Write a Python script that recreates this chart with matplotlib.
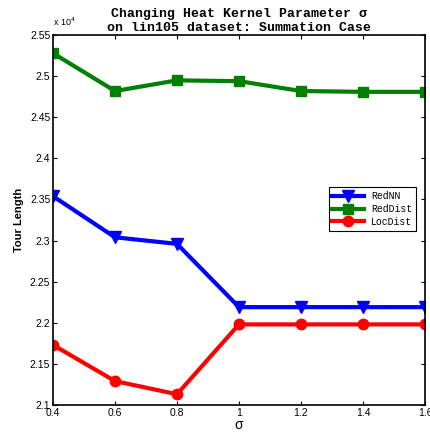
import matplotlib
matplotlib.use('Agg')
import matplotlib.pyplot as plt

sigma = [0.4, 0.6, 0.8, 1.0, 1.2, 1.4, 1.6]
red_nn = [2.354, 2.304, 2.296, 2.219, 2.219, 2.219, 2.219]
red_dist = [2.528, 2.482, 2.495, 2.494, 2.482, 2.481, 2.481]
loc_dist = [2.173, 2.129, 2.113, 2.198, 2.198, 2.198, 2.198]
xticks = [0.4, 0.6, 0.8, 1.0, 1.2, 1.4, 1.6]
xticklabels = ['0.4', '0.6', '0.8', '1', '1.2', '1.4', '1.6']
yticks = [2.1, 2.15, 2.2, 2.25, 2.3, 2.35, 2.4, 2.45, 2.5, 2.55]
yticklabels = ['2.1', '2.15', '2.2', '2.25', '2.3', '2.35', '2.4', '2.45', '2.5', '2.55']

plt.rcParams['font.family'] = ['Liberation Sans', 'DejaVu Sans']

fig = plt.figure(figsize=(4.31, 4.34), dpi=100)
ax = fig.add_axes([0.123, 0.067, 0.863, 0.852])

ax.plot(sigma, red_nn, c='b', lw=3, marker='v', ms=8.5, label='RedNN')
ax.plot(sigma, red_dist, c='#008000', lw=3, marker='s', ms=7, label='RedDist')
ax.plot(sigma, loc_dist, c='r', lw=3, marker='o', ms=7.5, label='LocDist')

ax.set_xlim(0.4, 1.6)
ax.set_ylim(2.1, 2.55)
ax.set_xticks(xticks)
ax.set_xticklabels(xticklabels, fontsize=7.5)
ax.set_yticks(yticks)
ax.set_yticklabels(yticklabels, fontsize=7.5)
ax.tick_params(direction='in', top=True, right=True, length=3, pad=2)
for s in ax.spines.values():
    s.set_linewidth(1.2)

ax.text(0.0, 1.018, r'x 10$^4$', transform=ax.transAxes, fontsize=6.5,
        ha='left', va='bottom')
ax.set_title('Changing Heat Kernel Parameter σ\non lin105 dataset: Summation Case',
             family=['Liberation Mono', 'DejaVu Sans Mono'], fontweight='bold',
             fontsize=9.5, pad=3, linespacing=1.25)
ax.set_xlabel('σ', fontsize=10, labelpad=0)
ax.set_ylabel('Tour Length', fontsize=8, fontweight='bold', labelpad=4)

leg = ax.legend(loc='center right', bbox_to_anchor=(0.99, 0.53),
                prop={'family': 'Liberation Mono', 'size': 7},
                fancybox=False, edgecolor='k', framealpha=1,
                handlelength=3.2, borderpad=0.4, labelspacing=0.3)
leg.get_frame().set_linewidth(0.8)

fig.savefig('out.png', dpi=100)
